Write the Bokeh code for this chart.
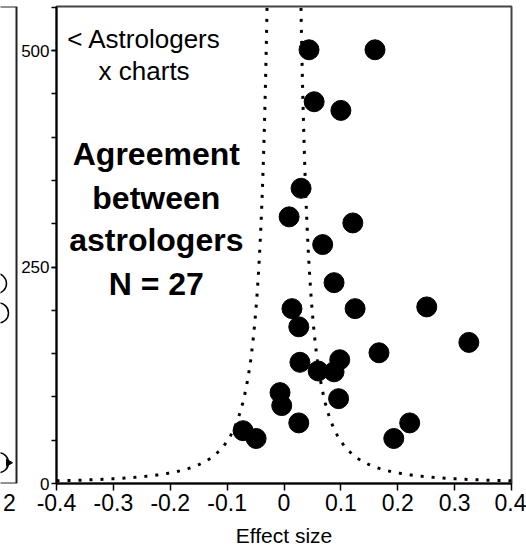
import numpy as np
from bokeh.plotting import figure
from bokeh.layouts import row
from bokeh.models import Range1d, FixedTicker
from bokeh.core.properties import value
from bokeh.embed import file_html
from bokeh.resources import INLINE

# Agreement between astrologers: effect size of each study against its size
# (number of astrologers x charts).
effect_size = [0.044, 0.160, 0.053, 0.100, 0.030, 0.009, 0.121, 0.068, 0.088,
               0.014, 0.125, 0.251, 0.026, 0.325, 0.028, 0.060, 0.088, 0.098,
               0.167, -0.007, -0.004, 0.096, 0.026, -0.072, -0.049, 0.193, 0.221]
sample_size = [501, 501, 441, 431, 341, 308, 301, 276, 232,
               202, 202, 204, 181, 163, 140, 130, 129, 143,
               151, 105, 90, 98, 70, 61, 52, 52, 70]

x_ticks = [-0.4, -0.3, -0.2, -0.1, 0.0, 0.1, 0.2, 0.3, 0.4]
x_tick_labels = ["-0.4", "-0.3", "-0.2", "-0.1", "0", "0.1", "0.2", "0.3", "0.4"]
y_ticks = [0, 250, 500]
y_minor_ticks = [50, 100, 150, 200, 250, 300, 350, 400, 450, 500, 550]

# funnel limits: half-width = FUNNEL_K / sqrt(N)
FUNNEL_K = 0.7

# right-hand edge of the neighbouring panel (pixel-like x units, same N scale)
neighbour_x = [-4, -2, -2]
neighbour_y = [231, 197, 24]
neighbour_tick = [4]
neighbour_tick_label = ["2"]

FONT = "Liberation Sans"
X_MIN, X_MAX = -0.4, 0.4
Y_MIN, Y_MAX = 0, 551

W_STRIP = 18
W_MAIN = 508
H = 554
B_LEFT, B_RIGHT, B_TOP, B_BOTTOM = 37, 15, 6, 71

p = figure(width=W_MAIN, height=H, output_backend="svg", toolbar_location=None,
           x_range=Range1d(X_MIN, X_MAX), y_range=Range1d(Y_MIN, Y_MAX),
           min_border_left=B_LEFT, min_border_right=B_RIGHT,
           min_border_top=B_TOP, min_border_bottom=B_BOTTOM)
p.xgrid.visible = False
p.ygrid.visible = False
p.outline_line_color = "#444444"
p.outline_line_width = 2
p.background_fill_color = "white"
p.border_fill_color = "white"

# x axis
p.xaxis.ticker = FixedTicker(ticks=x_ticks)
p.xaxis.major_label_overrides = dict(zip(x_ticks, x_tick_labels))
p.xaxis.axis_line_width = 2
p.xaxis.axis_line_color = "black"
p.xaxis.major_tick_in = 0
p.xaxis.major_tick_out = 7
p.xaxis.major_tick_line_width = 1.5
p.xaxis.minor_tick_line_color = None
p.xaxis.major_label_text_font = FONT
p.xaxis.major_label_text_font_size = "23px"
p.xaxis.major_label_text_color = "black"
p.xaxis.major_label_standoff = 3
p.xaxis.axis_label = "Effect size"
p.xaxis.axis_label_text_font = FONT
p.xaxis.axis_label_text_font_size = "21px"
p.xaxis.axis_label_text_font_style = "normal"
p.xaxis.axis_label_text_color = "black"
p.xaxis.axis_label_standoff = 10

# y axis
p.yaxis.ticker = FixedTicker(ticks=y_ticks, minor_ticks=y_minor_ticks)
p.yaxis.axis_line_width = 2
p.yaxis.axis_line_color = "black"
p.yaxis.major_tick_in = 0
p.yaxis.major_tick_out = 5
p.yaxis.minor_tick_in = 0
p.yaxis.minor_tick_out = 5
p.yaxis.major_tick_line_width = 1.5
p.yaxis.minor_tick_line_width = 1.5
p.yaxis.minor_tick_line_color = "black"
p.yaxis.major_label_text_font = FONT
p.yaxis.major_label_text_font_size = "17px"
p.yaxis.major_label_text_color = "black"
p.yaxis.major_label_standoff = 2

# funnel curves
n_curve = np.geomspace((FUNNEL_K / X_MAX) ** 2, Y_MAX, 500)
half_width = FUNNEL_K / np.sqrt(n_curve)
for sign in (-1, 1):
    p.line(sign * half_width, n_curve, line_color="black", line_width=3,
           line_dash="3 8", line_cap="butt")

# studies
p.scatter(effect_size, sample_size, marker="circle", size=20,
          fill_color="black", line_color="black")

# annotations
p.text(x=[-0.381, -0.326], y=[514, 476], text=["< Astrologers", "x charts"],
       text_font=value(FONT), text_font_size="26px", text_color="black",
       text_align="left", text_baseline="middle")
block = ["Agreement", "between", "astrologers", f"N = {len(effect_size)}"]
p.text(x=[-0.2245] * 4, y=[381, 330, 281, 231], text=block,
       text_font=value(FONT), text_font_size="32px", text_font_style="bold",
       text_color="black", text_align="center", text_baseline="middle")

# neighbouring panel edge; the row aligns its frame with the main frame
strip = figure(width=W_STRIP, height=H, output_backend="svg", toolbar_location=None,
               x_range=Range1d(0, W_STRIP), y_range=Range1d(Y_MIN, Y_MAX),
               y_axis_type=None, min_border=0)
strip.xgrid.visible = False
strip.outline_line_color = None
strip.background_fill_color = "white"
strip.border_fill_color = "white"
strip.xaxis.ticker = FixedTicker(ticks=neighbour_tick)
strip.xaxis.major_label_overrides = dict(zip(neighbour_tick, neighbour_tick_label))
strip.xaxis.axis_line_color = None
strip.xaxis.major_tick_line_color = None
strip.xaxis.minor_tick_line_color = None
strip.xaxis.major_tick_in = 0
strip.xaxis.major_tick_out = 7
strip.xaxis.major_label_standoff = 3
strip.xaxis.major_label_text_font = FONT
strip.xaxis.major_label_text_font_size = "23px"
strip.xaxis.major_label_text_color = "black"
strip.quad(left=[-40], right=[16], bottom=[Y_MIN], top=[Y_MAX],
           fill_color=None, line_color="#222222", line_width=2)
strip.scatter(neighbour_x, neighbour_y, marker="circle", size=20,
              fill_color=None, line_color="black", line_width=1.5)
strip.scatter([8], [neighbour_y[-1]], marker="triangle", size=7, angle=-np.pi / 2,
              fill_color="black", line_color="black")

layout = row(strip, p)
open("out.html", "w").write(file_html(layout, INLINE))
